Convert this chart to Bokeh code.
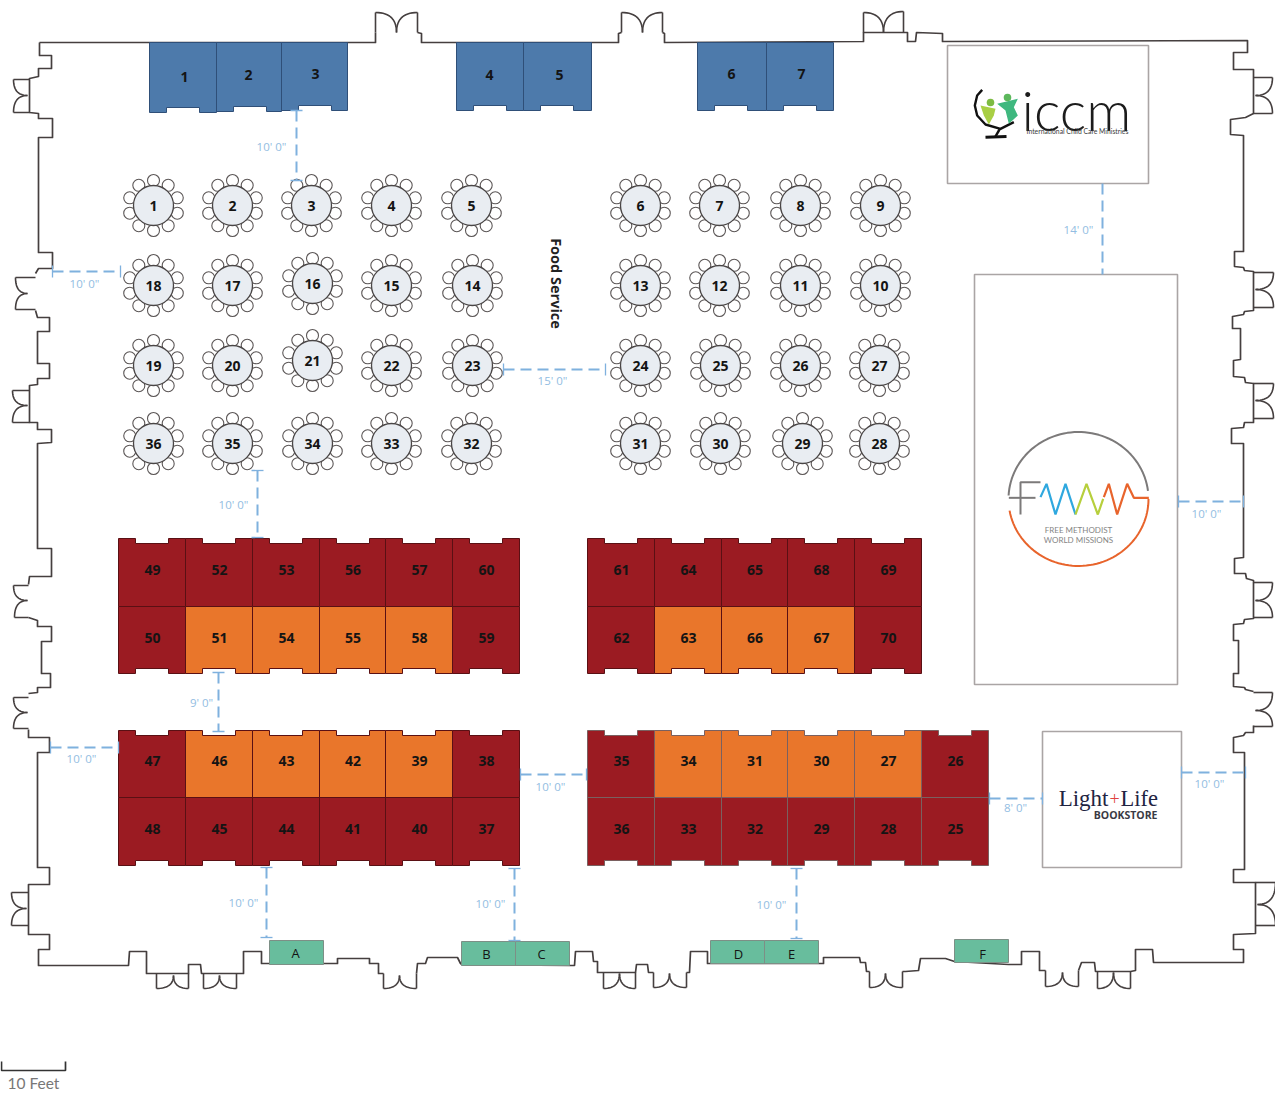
import numpy as np
from bokeh.plotting import figure
from bokeh.core.properties import value
from bokeh.embed import file_html
from bokeh.resources import INLINE

# ---------- room outline (floor-plan coordinates) ----------
WALL_SEGMENTS = [
    [(39,42),(375,42),(375,32)],
    [(417,32),(421,33),(421,42),(618,42),(618,33),(621,32)],
    [(662,32),(664,33),(664,42),(863,41),(863,32),(904,32),(907,32),(907,41),(915,41),(916,32),(942,33),(942,41),(1247,40),
     (1247,52),(1233,52),(1233,69),(1253,69),(1253,113),(1245,117),(1230,119),(1230,134),(1243,135),(1243,251),(1234,251),
     (1234,266),(1243,267),(1244,270),(1253,271),(1253,310),(1244,311),(1243,314),(1232,316),(1232,328),(1240,328),(1240,359),
     (1233,360),(1233,376),(1244,377),(1245,382),(1253,383),(1253,422),(1244,422),(1243,427),(1231,428),(1231,443),(1243,443),
     (1243,557),(1234,558),(1234,573),(1245,573),(1246,578),(1253,580),(1253,618),(1244,619),(1243,623),(1233,624),(1233,640),
     (1238,640),(1238,673),(1233,673),(1233,686),(1244,687),(1245,689),(1253,691)],
    [(1253,725),(1253,732),(1245,732),(1243,735),(1233,737),(1233,752),(1244,752),(1244,869),(1233,869),(1233,882),(1255,882),
     (1255,933),(1233,934),(1233,949),(1243,949),(1243,962),(1153,962),(1152,949),(1135,949),(1135,970),(1130,971),(1097,971),
     (1095,971),(1094,962),(1081,962),(1078,970)],
    [(1045,970),(1039,970),(1039,951),(1021,951),(1021,964),(1008,964),(954,961),(945,958),(920,958),(918,970),(905,971),(902,971)],
    [(869,971),(866,971),(865,962),(860,962),(859,957),(823,957),(823,963),(818,963),(707,963),(707,951),(690,951),(689,972),(687,972),(686,972)],
    [(653,972),(648,972),(647,964),(636,964),(635,972),(603,972),(597,972),(597,961),(593,961),(592,951),(575,951),(574,965),(569,965),
     (461,964),(460,963),(457,957),(427,957),(425,963),(417,963),(416,973)],
    [(383,973),(378,973),(378,963),(369,963),(369,958),(337,958),(337,963),(261,963),(261,951),(243,951),(243,973),(236,973),
     (203,973),(201,973),(200,964),(188,964),(188,973),(156,973),(146,973),(146,951),(129,951),(128,965),(38,965),(38,949),(49,949),
     (49,934),(28,934),(28,884),(49,884),(49,867),(37,867),(37,752),(49,752),(49,737),(28,737),(28,729)],
    [(28,693),(37,692),(37,687),(50,687),(50,673),(41,673),(41,641),(51,641),(51,626),(37,626),(37,620),(28,617)],
    [(28,584),(29,576),(51,576),(51,560),(51,548),(37,548),(37,443),(51,442),(51,429),(37,429),(37,422),(29,422),(29,385),(37,384),
     (37,378),(49,378),(49,363),(37,363),(37,331),(49,331),(49,317),(37,317),(35,310)],
    [(35,273),(38,268),(52,268),(52,252),(38,252),(38,137),(52,137),(52,118),(38,118),(38,113),(29,112),(29,78),(38,76),(38,68),(51,68),
     (51,55),(39,55),(39,42)],
]
TOP_DOORS = [(375,12,417,12,396,32,32),(621,12,662,12,642,32,32),(863,12,903,11,883,32,32)]
BOTTOM_DOORS = [(156,988,188,988,173,975,973),(203,988,236,988,219,975,973),(383,988,416,988,399,975,973),
                (603,988,635,988,619,973,972),(653,987,686,987,669,973,972),(869,987,902,987,885,973,971),
                (1045,986,1078,986,1062,972,970),(1097,988,1130,988,1113,972,971)]
LEFT_DOORS = [(13,79,13,112,27,95,29),(15,277,15,309,27,293,35),(12,390,12,422,27,405,29),
              (13,585,14,617,27,600,28),(13,697,13,728,27,712,28),(11,892,11,925,26,908,28)]
RIGHT_DOORS = [(1272,77,1272,113,1255,95,1253),(1273,272,1273,307,1255,289,1253),(1273,383,1273,418,1255,400,1253),
               (1272,582,1272,617,1255,600,1253),(1272,692,1272,726,1255,710,1253),(1275,882,1275,925,1257,904,1255)]

# ---------- round tables ----------
TABLE_LABELS = list(range(1,10)) + [18,17,16,15,14,13,12,11,10] + list(range(19,28)) + [36,35,34,33,32,31,30,29,28]
TABLE_X = [153,232,311,391,471,640,719,800,880,
           153,232,312,391,472,640,719,800,880,
           153,232,312,391,472,640,720,800,879,
           153,232,312,391,471,640,720,802,879]
TABLE_Y = [205]*9 + [285,285,283,285,285,285,285,285,285] + [365,365,360,365,365,365,365,365,365] + [443]*9
CHAIR_COUNT = 10

# ---------- booths ----------
UL_TOP = ["49","52","53","56","57","60"]; UL_BOT = ["50","51","54","55","58","59"]
UR_TOP = ["61","64","65","68","69"];       UR_BOT = ["62","63","66","67","70"]
LL_TOP = ["47","46","43","42","39","38"]; LL_BOT = ["48","45","44","41","40","37"]
LR_TOP = ["35","34","31","30","27","26"]; LR_BOT = ["36","33","32","29","28","25"]
PREMIUM = {"51","54","55","58","63","66","67","46","43","42","39","34","31","30","27"}
LEFT_COLS = [118,185,252,319,385,452,519]
RIGHT_COLS = [587,654,721,787,854,921,988]
UP_ROWS = [538,606,673]
LOW_ROWS = [730,797,865]

BLUE_LABELS = ["1","2","3","4","5","6","7"]
BLUE_L = [149,216,281,456,523,697,766]
BLUE_R = [216,281,347,523,591,766,833]
BLUE_B = [112,111,110,110,110,110,110]
BLUE_TX = [184,248,315,489,559,731,801]
BLUE_TY = [76,74,73,74,74,73,73]

GREEN_LABELS = ["A","B","C","D","E","F"]
GREEN_L = [269,461,515,710,764,954]
GREEN_R = [323,515,569,764,818,1008]
GREEN_T = [940,941,941,940,940,939]
GREEN_B = [964,965,965,963,963,962]
GREEN_TX = [295,486,541,738,791,982]
GREEN_TY = [952,953,953,953,953,953]

DIMS = [(296,110,296,180,"10' 0\"",272,147),(52,271,120,271,"10' 0\"",85,284),(1102,183,1102,274,"14' 0\"",1079,230),
        (503,369,605,369,"15' 0\"",553,381),(257,470,257,537,"10' 0\"",234,505),(1178,501,1243,501,"10' 0\"",1207,514),
        (218,672,218,731,"9' 0\"",202,703),(50,747,118,747,"10' 0\"",82,759),(520,774,586,774,"10' 0\"",551,787),
        (989,798,1042,798,"8' 0\"",1016,808),(1181,772,1245,772,"10' 0\"",1210,784),(266,867,266,937,"10' 0\"",244,903),
        (514,868,514,940,"10' 0\"",491,904),(796,868,796,938,"10' 0\"",772,905)]
NO_CAP_END = {(1102,183),(1102,274)}

BOX_L = [947,974,1042]; BOX_R = [1148,1177,1181]; BOX_T = [45,274,731]; BOX_B = [183,684,867]

RED, ORANGE, BLUE, GREEN = "#9b1b22", "#e9762b", "#4d7aab", "#68bd9d"
INK = "#141414"; WALLC = "#453f3f"; DIMC = "#7fb1de"; DIMT = "#93bde2"; BOXC = "#aaa5a5"
FONT = value("Open Sans")

p = figure(width=1275, height=1093, x_range=(0,1275), y_range=(1093,0), output_backend="svg",
           toolbar_location=None, min_border=0, outline_line_color=None, background_fill_color="white",
           border_fill_color="white")
p.axis.visible = False
p.grid.visible = False

p.multi_line([[a for a,b in s] for s in WALL_SEGMENTS], [[b for a,b in s] for s in WALL_SEGMENTS],
             line_color=WALLC, line_width=1.7, line_join="round")

def bez(a, c, b):
    t = np.linspace(0,1,16)
    return ((1-t)**2*a[0]+2*t*(1-t)*c[0]+t*t*b[0]).tolist(), ((1-t)**2*a[1]+2*t*(1-t)*c[1]+t*t*b[1]).tolist()

dx, dy = [], []
for ax,ay,bx,by,mx,my,base in TOP_DOORS + BOTTOM_DOORS:
    for ex,ey in ((ax,ay),(bx,by)):
        x,y = bez((ex,ey),(mx,ey),(mx,my)); dx.append(x); dy.append(y)
        dx.append([ex,ex]); dy.append([ey,base])
for ax,ay,bx,by,mx,my,base in LEFT_DOORS + RIGHT_DOORS:
    for ex,ey in ((ax,ay),(bx,by)):
        x,y = bez((ex,ey),(ex,my),(mx,my)); dx.append(x); dy.append(y)
        dx.append([ex,base]); dy.append([ey,ey])
p.multi_line(dx, dy, line_color=WALLC, line_width=1.6)

p.quad(left=BOX_L, right=BOX_R, top=BOX_T, bottom=BOX_B, fill_color="white", line_color=BOXC, line_width=1.6)

NOTCH_A, NOTCH_B, NOTCH_D = 17, 50, 5
def booth(x0, x1, y0, y1, side):
    if side == "top":
        return [x0,x0+NOTCH_A,x0+NOTCH_A,x0+NOTCH_B,x0+NOTCH_B,x1,x1,x0],[y0,y0,y0+NOTCH_D,y0+NOTCH_D,y0,y0,y1,y1]
    return [x0,x1,x1,x0+NOTCH_B,x0+NOTCH_B,x0+NOTCH_A,x0+NOTCH_A,x0],[y0,y0,y1,y1,y1-NOTCH_D,y1-NOTCH_D,y1,y1]

bx, by, bc, bl, tx, ty, tt = [], [], [], [], [], [], []
for cols, rows, top_l, bot_l, edge in ((LEFT_COLS,UP_ROWS,UL_TOP,UL_BOT,"#5a1014"),(RIGHT_COLS,UP_ROWS,UR_TOP,UR_BOT,"#5a1014"),
                                       (LEFT_COLS,LOW_ROWS,LL_TOP,LL_BOT,"#5a1014"),(RIGHT_COLS,LOW_ROWS,LR_TOP,LR_BOT,"#7a6060")):
    for labels, y0, y1, side in ((top_l,rows[0],rows[1],"top"),(bot_l,rows[1],rows[2],"bottom")):
        for i,lab in enumerate(labels):
            x,y = booth(cols[i],cols[i+1],y0,y1,side)
            bx.append(x); by.append(y); bc.append(ORANGE if lab in PREMIUM else RED); bl.append(edge)
            tx.append((cols[i]+cols[i+1])/2+0.5); ty.append((y0+y1)/2-3 if side=="top" else (y0+y1)/2-2.5); tt.append(lab)
p.patches(bx, by, fill_color=bc, line_color=bl, line_width=1)
p.text(tx, ty, text=tt, text_font=FONT, text_font_size="14px", text_font_style="bold", text_color=INK,
       text_align="center", text_baseline="middle")

bx = []; by = []
for l,r,b in zip(BLUE_L,BLUE_R,BLUE_B):
    x,y = booth(l,r,42,b,"bottom"); bx.append(x); by.append(y)
p.patches(bx, by, fill_color=BLUE, line_color="#2f4f78", line_width=1)
p.text(BLUE_TX, BLUE_TY, text=BLUE_LABELS, text_font=FONT, text_font_size="14px", text_font_style="bold", text_color=INK,
       text_align="center", text_baseline="middle")

p.quad(left=GREEN_L, right=GREEN_R, top=GREEN_T, bottom=GREEN_B, fill_color=GREEN, line_color="#7d8f86", line_width=1)
p.text(GREEN_TX, GREEN_TY, text=GREEN_LABELS, text_font=FONT, text_font_size="13px", text_color=INK,
       text_align="center", text_baseline="middle")

ang = np.arange(CHAIR_COUNT)*2*np.pi/CHAIR_COUNT + np.pi/2
cx = [x+25*np.cos(a) for x in TABLE_X for a in ang]
cy = [y+25*np.sin(a) for y in TABLE_Y for a in ang]
p.circle(cx, cy, radius=6, fill_color="white", line_color="#5c5757", line_width=1.1)
p.circle(TABLE_X, TABLE_Y, radius=20, fill_color="#e9edf2", line_color="#4a4646", line_width=1.3)
p.text(TABLE_X, TABLE_Y, text=[str(v) for v in TABLE_LABELS], text_font=FONT, text_font_size="14px", text_font_style="bold",
       text_color=INK, text_align="center", text_baseline="middle")

p.multi_line([[d[0],d[2]] for d in DIMS], [[d[1],d[3]] for d in DIMS], line_color=DIMC, line_width=2, line_dash="11 6")
capx, capy = [], []
for x0,y0,x1,y1,*_ in DIMS:
    for ex,ey in ((x0,y0),(x1,y1)):
        if (ex,ey) in NO_CAP_END: continue
        if x0 == x1:
            capx.append([ex-6,ex+6]); capy.append([ey,ey])
        else:
            capx.append([ex,ex]); capy.append([ey-6,ey+6])
p.multi_line(capx, capy, line_color=DIMC, line_width=1.3)
p.text([d[5]-1 for d in DIMS], [d[6]-1 for d in DIMS], text=[d[4] for d in DIMS], text_font=FONT, text_font_size="11.5px",
       text_color=DIMT, text_align="center", text_baseline="middle")

p.text([556],[283], text=["Food Service"], text_font=FONT, text_font_size="14.5px", text_font_style="bold", text_color="#222222",
       angle=-np.pi/2, text_align="center", text_baseline="middle")

p.line([1,1,65,65],[1061,1070,1070,1061], line_color="#333333", line_width=1.7)
p.text([7],[1082], text=["10 Feet"], text_font=value("Lato"), text_font_size="15.5px", text_color="#777777",
       text_align="left", text_baseline="middle")

def Z(ox,oy,pts):
    return [ox+a/3 for a,b in pts],[oy+b/3 for a,b in pts]
x,y = Z(930,0,[(155,268),(140,285),(133,315),(140,345),(165,372),(210,385),(250,365)])
p.line(x,y,line_color="#111111",line_width=2.4)
x,y = Z(930,0,[(208,385),(195,408)]); p.line(x,y,line_color="#111111",line_width=2.5)
x,y = Z(930,0,[(165,410),(228,408)]); p.line(x,y,line_color="#111111",line_width=3)
x,y = Z(930,0,[(150,315),(195,325),(190,345),(175,372),(160,345)]); p.patch(x,y,fill_color="#a9cf45",line_color=None)
x,y = Z(930,0,[(200,310),(262,295),(250,320),(262,345),(235,370),(225,330)]); p.patch(x,y,fill_color="#3fb87f",line_color=None)
p.circle([990,1007],[102,97],radius=3.8,fill_color=["#7dbb42","#5cb85c"],line_color=None)
p.text([1021],[109], text=["iccm"], text_font=value("Lato Light"), text_font_size="56px", text_color="#1c1c1c",
       text_align="left", text_baseline="middle")
p.text([1077],[130.5], text=["International Child Care Ministries"], text_font=value("Lato"), text_font_size="6.8px",
       text_color="#3a3a3a", text_align="center", text_baseline="middle")

t = np.radians(np.linspace(183,353,60))
p.line((1078+70*np.cos(t)).tolist(),(498.5+67*np.sin(t)).tolist(),line_color="#7c7a7a",line_width=2)
t = np.radians(np.linspace(0,170,60))
p.line((1078+70*np.cos(t)).tolist(),(498.5+67*np.sin(t)).tolist(),line_color="#e8642c",line_width=2)
x,y = Z(960,400,[(145,292),(225,292)]); p.line(x,y,line_color="#7c7a7a",line_width=2)
x,y = Z(960,400,[(240,245),(180,245),(180,342)]); p.line(x,y,line_color="#7c7a7a",line_width=2)
x,y = Z(960,400,[(240,290),(258,250),(285,342),(315,250),(345,342)]); p.line(x,y,line_color="#2fa8df",line_width=2.2)
x,y = Z(960,400,[(345,342),(378,250),(412,342),(428,295)]); p.line(x,y,line_color="#b7cf3c",line_width=2.2)
x,y = Z(960,400,[(430,290),(445,250),(470,342),(500,250),(520,292),(565,292)]); p.line(x,y,line_color="#e8642c",line_width=2.2)
p.text([1078,1078],[529.5,539], text=["FREE METHODIST","WORLD MISSIONS"], text_font=value("Lato"), text_font_size="8px",
       text_color="#858585", text_align="center", text_baseline="middle")

SERIF = value("Liberation Serif")
p.text([1108],[798], text=["Light"], text_font=SERIF, text_font_size="23px", text_color="#1f2442", text_align="right", text_baseline="middle")
p.text([1114],[798], text=["+"], text_font=SERIF, text_font_size="18px", text_color="#e0413f", text_align="center", text_baseline="middle")
p.text([1120],[798], text=["Life"], text_font=SERIF, text_font_size="22.5px", text_color="#1f2442", text_align="left", text_baseline="middle")
p.text([1157],[814], text=["BOOKSTORE"], text_font=value("Open Sans"), text_font_size="10.5px", text_font_style="bold",
       text_color="#3a3a44", text_align="right", text_baseline="middle")

open("out.html","w").write(file_html(p, INLINE))
